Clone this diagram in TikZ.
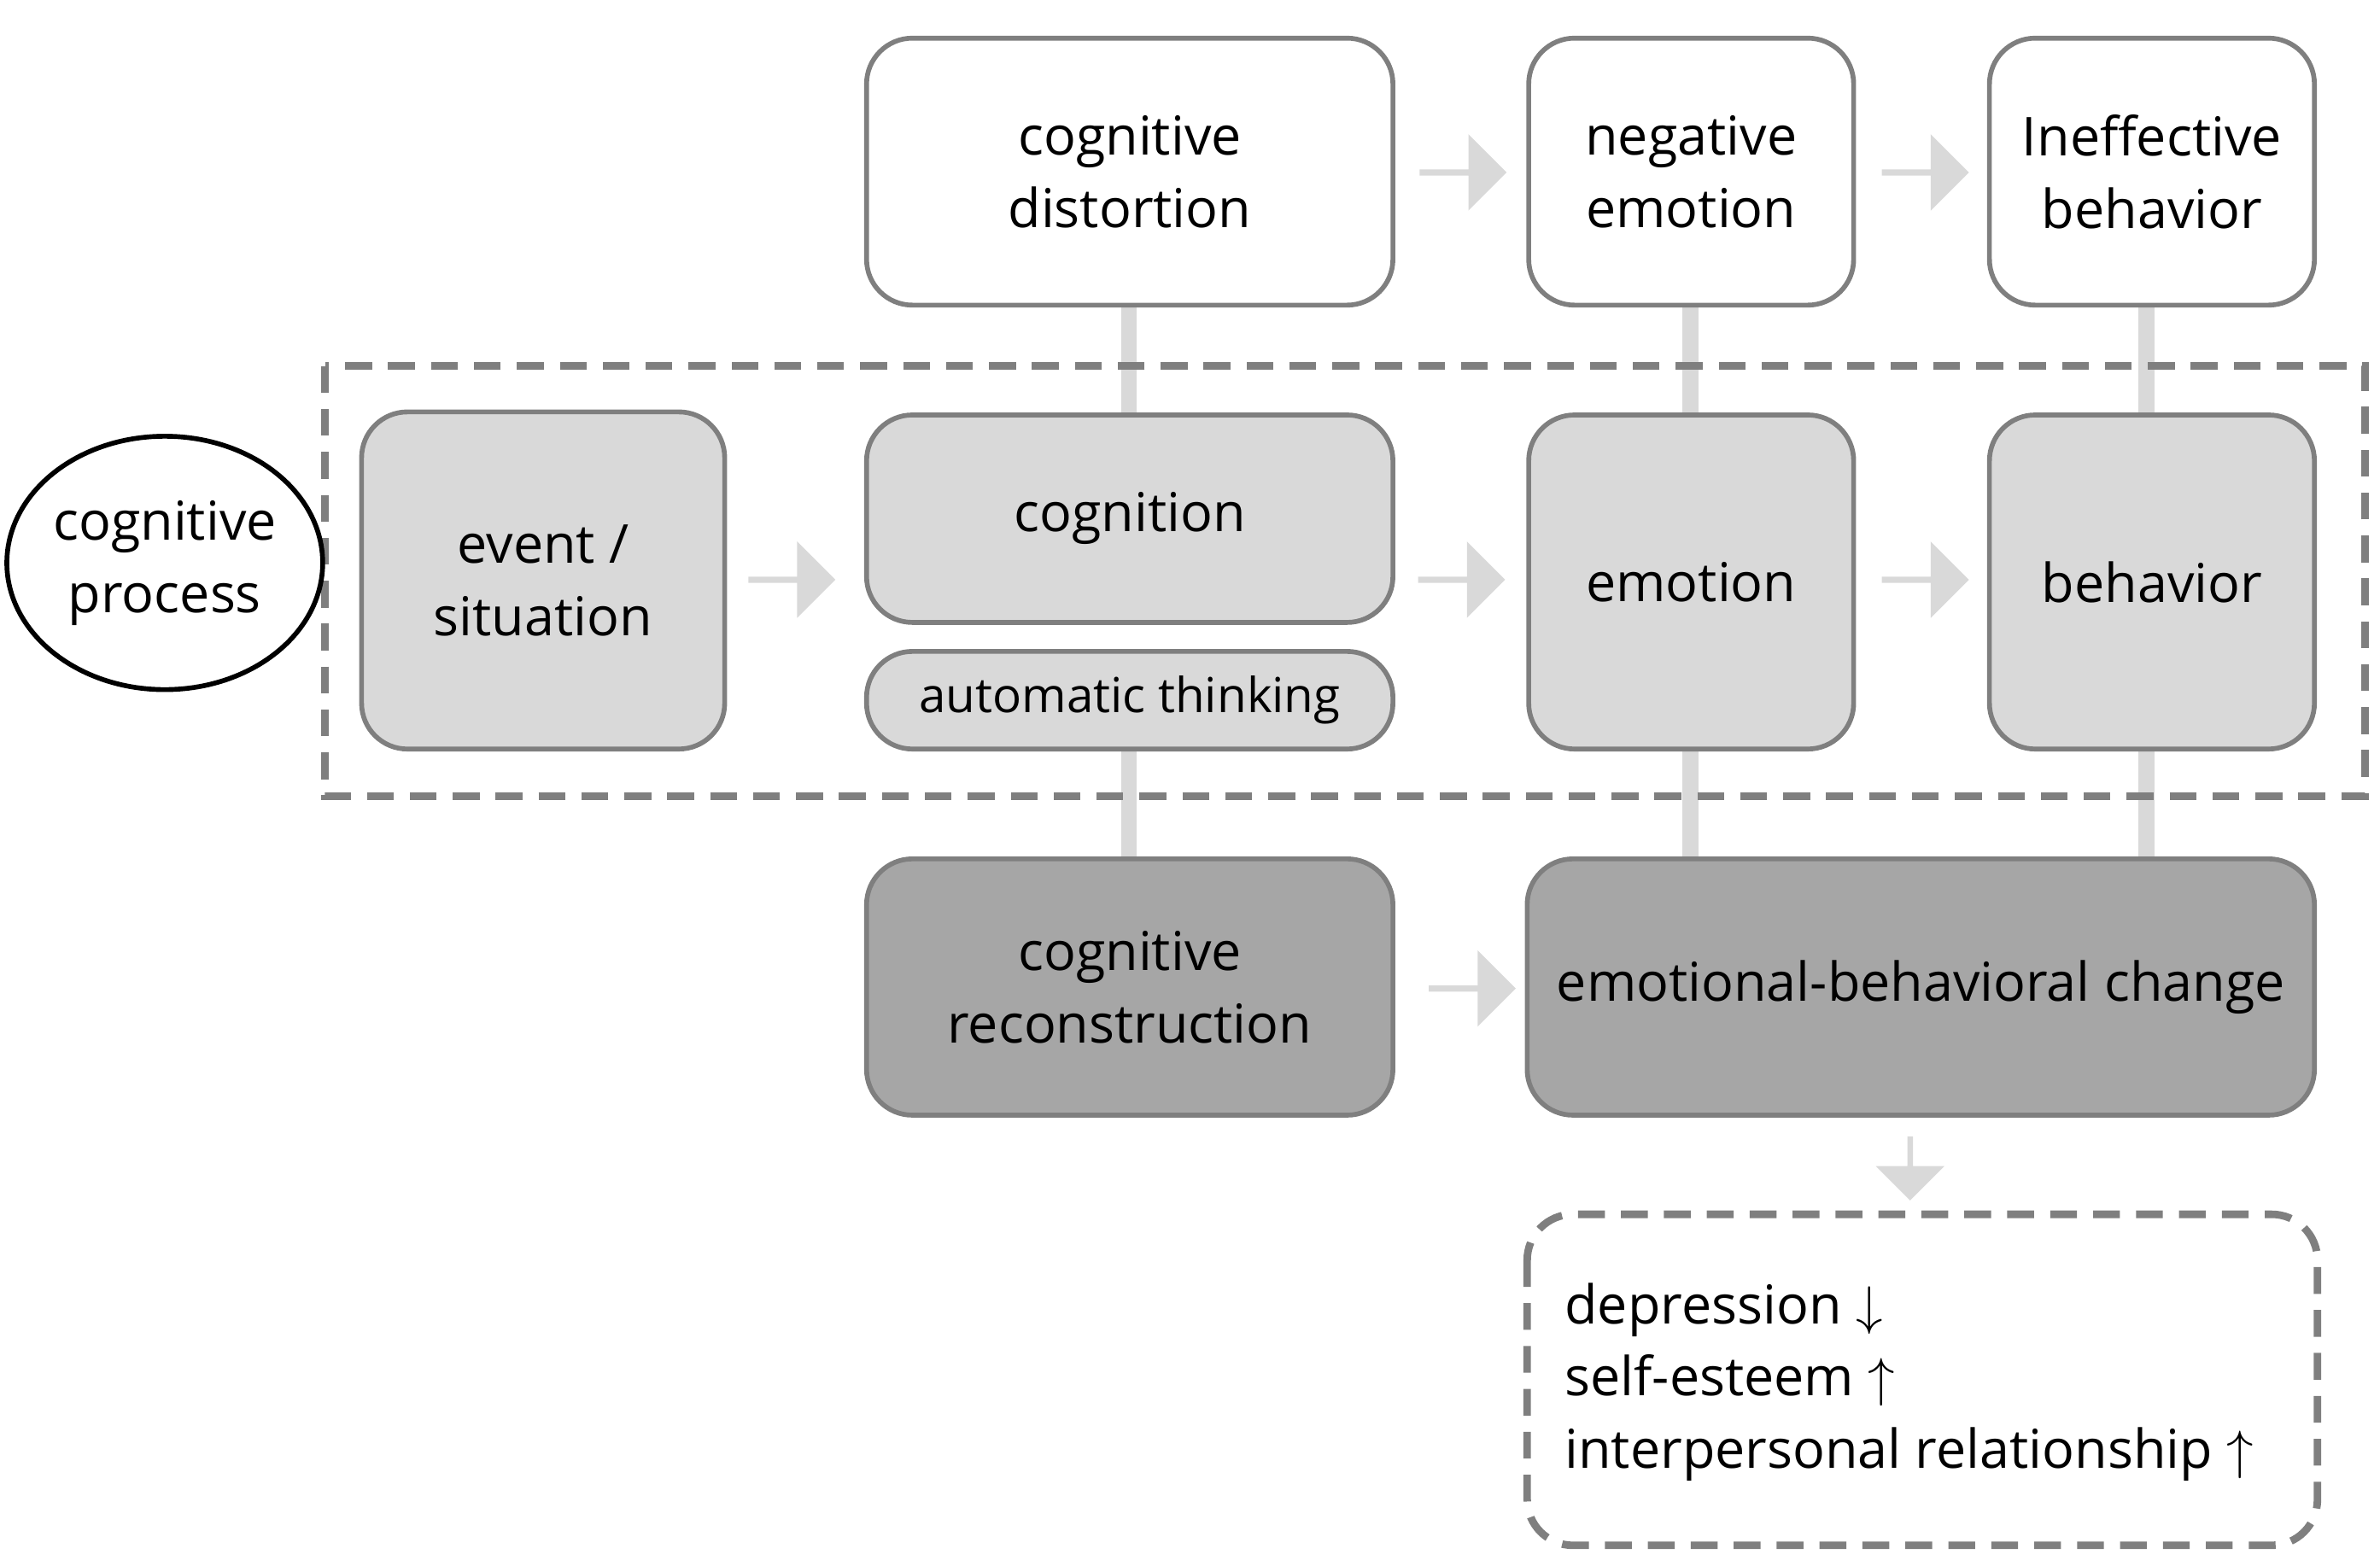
\documentclass[tikz,border=0pt]{standalone}
\usepackage{fontspec}
\setmainfont{Open Sans}
\usetikzlibrary{shapes.arrows,shapes.geometric}
\definecolor{lg}{HTML}{D9D9D9}
\definecolor{dg}{HTML}{A6A6A6}
\definecolor{bd}{HTML}{7F7F7F}
\begin{document}
\begin{tikzpicture}[x=0.01cm,y=-0.01cm,
  box/.style={draw=bd,line width=0.9pt,rounded corners=0.3cm,align=center,font=\fontsize{10}{13.5}\selectfont,inner sep=0pt},
  wb/.style={box,fill=white},
  lb/.style={box,fill=lg},
  db/.style={box,fill=dg},
  ba/.style={single arrow,fill=lg,draw=none,minimum height=0.57cm,minimum width=0.5cm,single arrow head extend=0.08cm,inner sep=0pt},
  con/.style={lg,line width=3pt}]
\useasboundingbox (0,0) rectangle (1560,1026);
\def\bx#1#2#3#4#5#6#7{\node[#1,minimum width=#4*0.01cm-#2*0.01cm,minimum height=#5*0.01cm-#3*0.01cm] (#6) at ({(#2+#4)/2},{(#3+#5)/2}) {#7};}
% connectors first
\coordinate (c1) at (740,200); \coordinate (c2) at (740,272);
\draw[con] (740,200) -- (740,272);
\draw[con] (1108,200) -- (1108,272);
\draw[con] (1407,200) -- (1407,272);
\draw[con] (740,491) -- (740,563);
\draw[con] (1108,491) -- (1108,563);
\draw[con] (1407,491) -- (1407,563);
\draw[bd,line width=1.4pt,dash pattern=on 5pt off 3pt] (213,240) rectangle (1550,522);
\bx{wb}{568}{25}{913}{200}{cd}{cognitive\\distortion}
\bx{wb}{1002}{25}{1215}{200}{ne}{negative\\emotion}
\bx{wb}{1304}{25}{1517}{200}{ib}{Ineffective\\behavior}
\node[draw=black,line width=0.9pt,ellipse,minimum width=1.9cm,minimum height=1.66cm,align=center,font=\fontsize{10}{13.5}\selectfont,inner sep=0pt] (cp) at (108,369) {cognitive\\process};
\bx{lb}{237}{270}{475}{491}{ev}{event /\\situation}
\bx{lb}{568}{272}{913}{408}{cg}{cognition}
\bx{lb}{568}{427}{913}{491}{at}{\fontsize{9}{11}\selectfont automatic thinking}
\bx{lb}{1002}{272}{1215}{491}{em}{emotion}
\bx{lb}{1304}{272}{1517}{491}{be}{behavior}
\bx{db}{568}{563}{913}{731}{cr}{cognitive\\reconstruction}
\bx{db}{1001}{563}{1517}{731}{ebc}{emotional-behavioral change}
\draw[bd,line width=1.4pt,dash pattern=on 5pt off 3pt,rounded corners=0.3cm] (1001,796) rectangle (1519,1013);
\node[anchor=west,align=left,font=\fontsize{10}{13.5}\selectfont,inner sep=0pt] (res) at (1025,906) {depression $\downarrow$\\self-esteem $\uparrow$\\interpersonal relationship $\uparrow$};
\node[ba] (a1) at (958,113) {};
\node[ba] (a2) at (1261,113) {};
\node[ba] (a3) at (518,380) {};
\node[ba] (a4) at (957,380) {};
\node[ba] (a5) at (1261,380) {};
\node[ba] (a6) at (964,648) {};
\node[ba,rotate=-90,minimum height=0.42cm,minimum width=0.45cm] (a7) at (1252,765) {};
\end{tikzpicture}
\end{document}
